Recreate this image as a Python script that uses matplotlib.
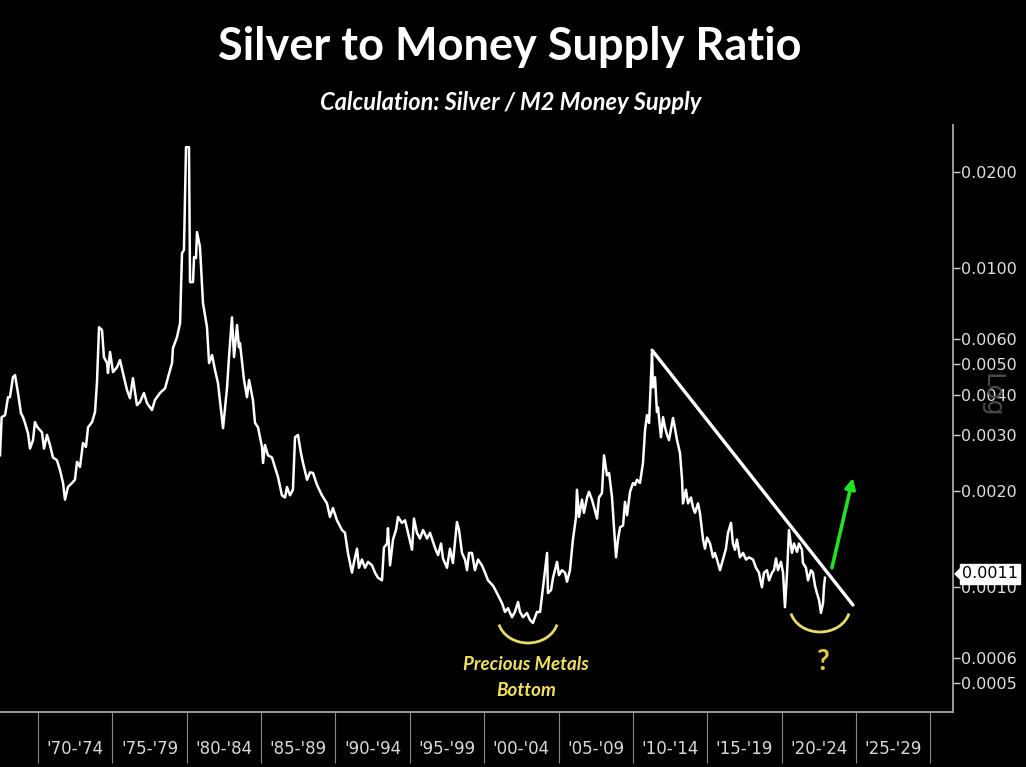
import matplotlib
matplotlib.use("Agg")
import matplotlib.pyplot as plt
from matplotlib.patches import Arc, Polygon
from matplotlib.ticker import FixedLocator, NullFormatter, NullLocator

# ---------------- data ----------------
years = [
    1967.44, 1967.55, 1967.78, 1967.98, 1968.11, 1968.31, 1968.45, 1968.65, 1968.85, 1968.99,
    1969.12, 1969.32, 1969.46, 1969.66, 1969.79, 1969.96, 1970.26, 1970.40, 1970.60, 1970.80,
    1971.00, 1971.27, 1971.47, 1971.68, 1971.81, 1972.01, 1972.28, 1972.48, 1972.62, 1972.82,
    1973.02, 1973.22, 1973.36, 1973.63, 1973.83, 1973.96, 1974.10, 1974.30, 1974.43, 1974.64,
    1974.70, 1974.84, 1975.04, 1975.31, 1975.51, 1975.71, 1975.98, 1976.18, 1976.38, 1976.65,
    1976.85, 1977.12, 1977.33, 1977.66, 1977.86, 1978.20, 1978.54, 1978.74, 1979.01, 1979.07,
    1979.34, 1979.55, 1979.68, 1979.81, 1979.95, 1980.15, 1980.22, 1980.42, 1980.49, 1980.62,
    1980.69, 1980.89, 1981.09, 1981.36, 1981.50, 1981.70, 1981.90, 1982.10, 1982.44, 1982.71,
    1982.84, 1983.04, 1983.18, 1983.38, 1983.51, 1983.58, 1983.85, 1984.05, 1984.19, 1984.45,
    1984.59, 1984.79, 1985.06, 1985.13, 1985.26, 1985.46, 1985.73, 1985.93, 1986.14, 1986.40,
    1986.61, 1986.74, 1986.94, 1987.14, 1987.28, 1987.48, 1987.68, 1987.82, 1988.09, 1988.29,
    1988.49, 1988.76, 1989.09, 1989.43, 1989.63, 1989.83, 1990.10, 1990.44, 1990.64, 1990.84,
    1991.11, 1991.25, 1991.45, 1991.58, 1991.78, 1991.99, 1992.19, 1992.46, 1992.66, 1992.86,
    1993.13, 1993.26, 1993.47, 1993.53, 1993.67, 1993.87, 1994.07, 1994.21, 1994.47, 1994.68,
    1994.88, 1995.15, 1995.28, 1995.48, 1995.68, 1995.89, 1996.16, 1996.36, 1996.69, 1996.90,
    1997.10, 1997.23, 1997.50, 1997.70, 1997.90, 1998.17, 1998.31, 1998.51, 1998.71, 1998.85,
    1998.98, 1999.18, 1999.38, 1999.59, 1999.85, 2000.06, 2000.26, 2000.60, 2000.86, 2001.20,
    2001.40, 2001.60, 2001.87, 2002.07, 2002.28, 2002.41, 2002.61, 2002.88, 2003.08, 2003.28,
    2003.55, 2003.76, 2003.96, 2004.23, 2004.29, 2004.50, 2004.63, 2004.90, 2005.03, 2005.23,
    2005.44, 2005.57, 2005.77, 2005.97, 2006.18, 2006.24, 2006.38, 2006.58, 2006.71, 2006.92,
    2007.05, 2007.25, 2007.39, 2007.59, 2007.72, 2007.92, 2008.06, 2008.26, 2008.40, 2008.60,
    2008.73, 2008.87, 2009.00, 2009.14, 2009.34, 2009.47, 2009.61, 2009.81, 2010.01, 2010.14,
    2010.28, 2010.48, 2010.68, 2010.82, 2010.95, 2011.09, 2011.29, 2011.35, 2011.49, 2011.62,
    2011.69, 2011.89, 2012.03, 2012.16, 2012.30, 2012.43, 2012.70, 2012.83, 2012.97, 2013.17,
    2013.31, 2013.37, 2013.57, 2013.71, 2013.91, 2014.04, 2014.18, 2014.38, 2014.51, 2014.72,
    2014.85, 2014.99, 2015.19, 2015.39, 2015.52, 2015.66, 2015.86, 2016.06, 2016.26, 2016.40,
    2016.60, 2016.73, 2016.87, 2017.00, 2017.20, 2017.41, 2017.61, 2017.81, 2018.08, 2018.28,
    2018.48, 2018.68, 2018.82, 2019.02, 2019.16, 2019.36, 2019.49, 2019.63, 2019.76, 2019.96,
    2020.10, 2020.23, 2020.37, 2020.50, 2020.70, 2020.84, 2021.04, 2021.17, 2021.37, 2021.44,
    2021.64, 2021.78, 2021.98, 2022.11, 2022.25, 2022.38, 2022.52, 2022.65, 2022.79, 2022.85,
    2022.92,
]

ratio = [
    0.00259, 0.00341, 0.00346, 0.00394, 0.00394, 0.00455, 0.00462, 0.00406, 0.00351, 0.00341,
    0.00327, 0.00304, 0.00272, 0.00289, 0.00329, 0.00317, 0.00306, 0.00272, 0.00300, 0.00279,
    0.00255, 0.00250, 0.00233, 0.00212, 0.00188, 0.00206, 0.00212, 0.00217, 0.00247, 0.00238,
    0.00283, 0.00275, 0.00317, 0.00329, 0.00354, 0.00436, 0.00653, 0.00639, 0.00526, 0.00504,
    0.00469, 0.00546, 0.00472, 0.00489, 0.00515, 0.00469, 0.00415, 0.00391, 0.00452, 0.00372,
    0.00380, 0.00406, 0.00377, 0.00359, 0.00386, 0.00406, 0.00420, 0.00455, 0.00504, 0.00561,
    0.00607, 0.00672, 0.01114, 0.01139, 0.02395, 0.02395, 0.00904, 0.00904, 0.01083, 0.01075,
    0.01297, 0.01164, 0.00777, 0.00653, 0.00504, 0.00534, 0.00479, 0.00436, 0.00315, 0.00423,
    0.00526, 0.00701, 0.00526, 0.00663, 0.00565, 0.00582, 0.00446, 0.00394, 0.00446, 0.00386,
    0.00327, 0.00317, 0.00275, 0.00245, 0.00279, 0.00259, 0.00255, 0.00238, 0.00221, 0.00194,
    0.00191, 0.00206, 0.00194, 0.00202, 0.00295, 0.00300, 0.00263, 0.00245, 0.00217, 0.00229,
    0.00228, 0.00209, 0.00194, 0.00183, 0.00166, 0.00177, 0.00162, 0.00151, 0.00148, 0.00128,
    0.00111, 0.00120, 0.00132, 0.00115, 0.00122, 0.00115, 0.00120, 0.00117, 0.00111, 0.00107,
    0.00105, 0.00133, 0.00137, 0.00153, 0.00117, 0.00141, 0.00151, 0.00166, 0.00159, 0.00162,
    0.00148, 0.00131, 0.00164, 0.00148, 0.00142, 0.00151, 0.00142, 0.00148, 0.00133, 0.00126,
    0.00137, 0.00123, 0.00115, 0.00132, 0.00119, 0.00160, 0.00151, 0.00128, 0.00122, 0.00113,
    0.00128, 0.00128, 0.00113, 0.00122, 0.00117, 0.00111, 0.00105, 0.00101, 0.000958, 0.000891,
    0.000836, 0.000859, 0.000805, 0.000836, 0.000898, 0.000836, 0.000805, 0.000830, 0.000789, 0.000772,
    0.000836, 0.000836, 0.000999, 0.00128, 0.000958, 0.000979, 0.00107, 0.00120, 0.00109, 0.00113,
    0.00111, 0.00104, 0.00113, 0.00141, 0.00166, 0.00202, 0.00166, 0.00188, 0.00171, 0.00191,
    0.00199, 0.00188, 0.00178, 0.00164, 0.00191, 0.00197, 0.00259, 0.00224, 0.00228, 0.00191,
    0.00154, 0.00124, 0.00141, 0.00154, 0.00156, 0.00185, 0.00168, 0.00199, 0.00212, 0.00209,
    0.00217, 0.00212, 0.00245, 0.00311, 0.00346, 0.00327, 0.00542, 0.00423, 0.00455, 0.00354,
    0.00366, 0.00295, 0.00341, 0.00317, 0.00300, 0.00289, 0.00339, 0.00315, 0.00289, 0.00263,
    0.00217, 0.00183, 0.00202, 0.00183, 0.00191, 0.00178, 0.00171, 0.00183, 0.00171, 0.00141,
    0.00132, 0.00143, 0.00137, 0.00124, 0.00128, 0.00122, 0.00113, 0.00122, 0.00132, 0.00148,
    0.00159, 0.00137, 0.00131, 0.00141, 0.00124, 0.00128, 0.00122, 0.00124, 0.00122, 0.00115,
    0.00111, 0.000999, 0.00111, 0.00113, 0.00105, 0.00111, 0.00113, 0.00123, 0.00113, 0.00120,
    0.00111, 0.000865, 0.00111, 0.00151, 0.00128, 0.00137, 0.00129, 0.00137, 0.00131, 0.00119,
    0.00115, 0.00105, 0.00113, 0.00111, 0.00101, 0.000958, 0.000911, 0.000830, 0.000891, 0.000999,
    0.00107,
]

period_edges = [1970, 1975, 1980, 1985, 1990, 1995, 2000, 2005, 2010, 2015, 2020, 2025, 2030]
period_labels = ["'70-'74", "'75-'79", "'80-'84", "'85-'89", "'90-'94", "'95-'99",
                 "'00-'04", "'05-'09", "'10-'14", "'15-'19", "'20-'24", "'25-'29"]
y_ticks = [0.0005, 0.0006, 0.0010, 0.0020, 0.0030, 0.0040, 0.0050, 0.0060, 0.0100, 0.0200]
last_value = 0.0011

trend_x = [2011.29, 2024.80]
trend_y = [0.00553, 0.000879]
arrow_start = (2023.39, 0.00115)
arrow_end = (2024.80, 0.00220)

# ---------------- figure ----------------
W, H = 1026, 767
fig = plt.figure(figsize=(W / 100, H / 100), dpi=100, facecolor="black")
ax = fig.add_axes([0.0, (H - 712) / H, 953 / W, (712 - 125) / H], facecolor="black")

ax.set_yscale("log")
ax.set_xlim(1967.44, 2031.53)
ax.set_ylim(0.000406, 0.0281)

ax.plot(years, ratio, color="white", lw=1.8, solid_joinstyle="round", zorder=3)

# trend line and arrow
ax.plot(trend_x, trend_y, color="white", lw=2.4, zorder=4, solid_capstyle="round")
ax.annotate("", xy=arrow_end, xytext=arrow_start,
            arrowprops=dict(arrowstyle="-|>,head_length=0.6,head_width=0.3",
                            color="#22e022", lw=2.6, shrinkA=0, shrinkB=0), zorder=5)

# spines
for s in ["left", "top"]:
    ax.spines[s].set_visible(False)
for s in ["bottom", "right"]:
    ax.spines[s].set_color("#9a9a9a")
    ax.spines[s].set_linewidth(1.4)

# y axis on right
ax.yaxis.tick_right()
ax.yaxis.set_major_locator(FixedLocator(y_ticks))
ax.yaxis.set_minor_locator(NullLocator())
ax.yaxis.set_minor_formatter(NullFormatter())
ax.set_yticklabels([f"{v:.4f}" for v in y_ticks])
ax.tick_params(axis="y", which="major", direction="out", length=5, width=1,
               color="#cccccc", labelcolor="#e0e0e0", labelsize=11.5, pad=1)

# x axis: separators (minor) and centred labels (major)
mids = [(a + b) / 2 for a, b in zip(period_edges[:-1], period_edges[1:])]
ax.xaxis.set_major_locator(FixedLocator(mids))
ax.set_xticklabels(period_labels)
ax.xaxis.set_minor_locator(FixedLocator(period_edges))
ax.tick_params(axis="x", which="major", length=0, pad=20, labelcolor="#d8d8d8", labelsize=12)
ax.tick_params(axis="x", which="minor", direction="out", length=37, width=0.8, color="#8a8a8a")

# yellow arcs
ax.add_patch(Arc((528 / 953, (712 - 618) / 587), 60 / 953, 50 / 587, theta1=200, theta2=340,
                 transform=ax.transAxes, color="#e8d96a", lw=2, zorder=4))
ax.add_patch(Arc((820 / 953, (712 - 607) / 587), 60 / 953, 50 / 587, theta1=200, theta2=340,
                 transform=ax.transAxes, color="#e8d96a", lw=2, zorder=4))

ax.text(526 / 953, (712 - 665) / 587, "Precious Metals", transform=ax.transAxes,
        ha="center", va="center", color="#f0e060", fontsize=13.5,
        fontfamily="Lato", fontweight="bold", fontstyle="italic")
ax.text(526 / 953, (712 - 690) / 587, "Bottom", transform=ax.transAxes,
        ha="center", va="center", color="#f0e060", fontsize=13.5,
        fontfamily="Lato", fontweight="bold", fontstyle="italic")
ax.text(822 / 953, (712 - 662) / 587, "?", transform=ax.transAxes,
        ha="center", va="center", color="#e8c840", fontsize=20,
        fontfamily="Lato", fontweight="bold")

# titles
fig.text(510 / W, 1 - 47 / H, "Silver to Money Supply Ratio", ha="center", va="center",
         color="white", fontsize=32.5, fontfamily="Lato", fontweight="bold")
fig.text(511 / W, 1 - 103 / H, "Calculation: Silver / M2 Money Supply", ha="center", va="center",
         color="white", fontsize=17, fontfamily="Lato", fontweight="bold", fontstyle="italic")

# "Log" label (faint, behind the tick labels as in the reference)
fig.text(992 / W, 1 - 395 / H, "Log", ha="center", va="center", rotation=270,
         color="#4a4a4a", fontsize=18, zorder=0)

# last value tag
fig.canvas.draw()
px, py = ax.transData.transform((2031.53, last_value))
fx, fy = fig.transFigure.inverted().transform((px, py))
tag = fig.text(fx + 9 / W, fy, f"{last_value:.4f}", ha="left", va="center", color="black",
               fontsize=11.5, zorder=10,
               bbox=dict(boxstyle="square,pad=0.15", fc="white", ec="white"))
fig.patches.append(Polygon([[fx + 2 / W, fy], [fx + 10 / W, fy + 8 / H], [fx + 10 / W, fy - 8 / H]],
                           closed=True, transform=fig.transFigure, fc="white", ec="white",
                           zorder=10))

fig.savefig("out.png", dpi=100, facecolor="black")
